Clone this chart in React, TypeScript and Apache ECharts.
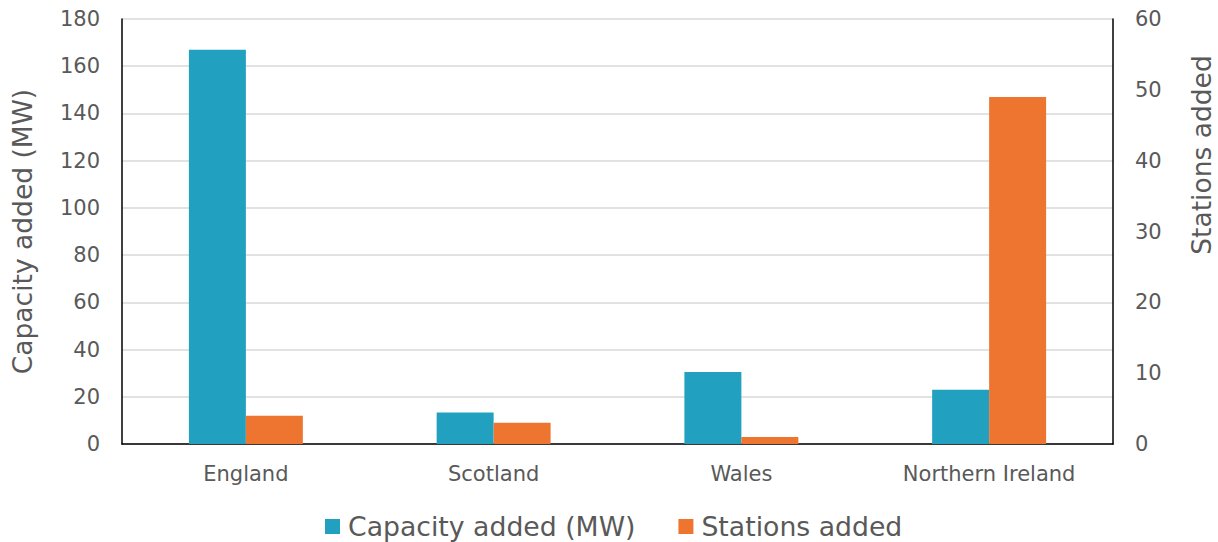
import React, { useEffect, useRef } from "react";
import * as echarts from "echarts";

const categories = ["England", "Scotland", "Wales", "Northern Ireland"];
const capacityMW = [167, 13.3, 30.5, 23];
const stations = [4, 3, 1, 49];
const leftTicks = { min: 0, max: 180, interval: 20 };
const rightTicks = { min: 0, max: 60, interval: 10 };

const FONT = "DejaVu Sans";
const GREY = "#595959";

export default function App() {
  const ref = useRef<HTMLDivElement>(null);
  useEffect(() => {
    document.body.style.margin = "0";
    if (!ref.current) return;
    const chart = echarts.init(ref.current, null, { renderer: "svg" });
    chart.setOption({
      animation: false,
      textStyle: { fontFamily: FONT },
      grid: {
        left: 122,
        right: 105,
        top: 19,
        bottom: 98,
        containLabel: false,
        outerBoundsMode: "none",
      },
      legend: {
        top: 508,
        left: 320,
        itemWidth: 15,
        itemHeight: 15,
        itemGap: 43,
        icon: "rect",
        textStyle: { fontSize: 26.7, color: GREY, fontFamily: FONT, padding: [0, 0, 0, 3] },
        data: ["Capacity added (MW)", "Stations added"],
      },
      graphic: [
        {
          type: "text",
          x: 1201,
          y: 155,
          rotation: Math.PI / 2,
          style: {
            text: "Stations added",
            fontSize: 26.5,
            fontFamily: FONT,
            fill: GREY,
            align: "center",
            verticalAlign: "middle",
          },
        },
      ],
      xAxis: {
        type: "category",
        data: categories,
        axisLine: { lineStyle: { color: "#000", width: 1.5 } },
        axisTick: { show: false },
        axisLabel: { fontSize: 21, color: GREY, margin: 19, fontFamily: FONT },
      },
      yAxis: [
        {
          type: "value",
          ...leftTicks,
          name: "Capacity added (MW)",
          nameLocation: "middle",
          nameGap: 86,
          nameTextStyle: { fontSize: 26.5, color: GREY, fontFamily: FONT },
          axisLine: { show: true, lineStyle: { color: "#000", width: 1.5 } },
          axisTick: { show: false },
          axisLabel: { fontSize: 21, color: GREY, margin: 22, fontFamily: FONT },
          splitLine: { lineStyle: { color: "#d9d9d9", width: 1.5 } },
        },
        {
          type: "value",
          ...rightTicks,
          axisLine: { show: true, lineStyle: { color: "#000", width: 1.5 } },
          axisTick: { show: false },
          axisLabel: { fontSize: 21, color: GREY, margin: 22, fontFamily: FONT },
          splitLine: { show: false },
        },
      ],
      series: [
        {
          name: "Capacity added (MW)",
          type: "bar",
          yAxisIndex: 0,
          data: capacityMW,
          barWidth: "23%",
          barGap: "0%",
          itemStyle: { color: "#22A0C0" },
        },
        {
          name: "Stations added",
          type: "bar",
          yAxisIndex: 1,
          data: stations,
          barWidth: "23%",
          barGap: "0%",
          itemStyle: { color: "#ED7530" },
        },
      ],
    });
    return () => chart.dispose();
  }, []);
  return <div ref={ref} style={{ width: 1218, height: 542 }} />;
}
